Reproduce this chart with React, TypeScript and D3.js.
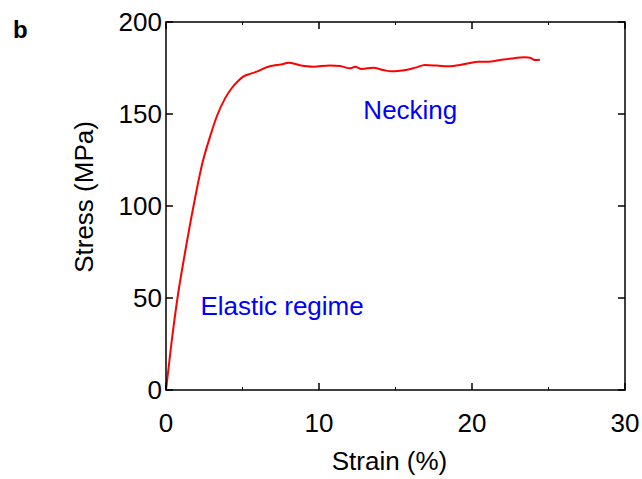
import React from "react";
import * as d3 from "d3";

// Tensile test curve: engineering strain (%) vs stress (MPa)
const strain = [
  0, 0.35, 0.75, 1.25, 1.8, 2.4, 2.88, 3.31, 3.86, 4.29, 4.7, 5.05, 5.5, 5.93, 6.58,
  7.23, 7.6, 8.0, 8.76, 9.63, 10.72, 11.37, 12.03, 12.35, 12.79, 13.55, 14.2, 14.75,
  15.29, 15.84, 16.3, 16.93, 17.69, 18.45, 19.22, 19.8, 20.41, 21.07, 21.83, 22.6,
  23.46, 23.8, 24.1, 24.44,
];
const stress = [
  0, 25, 50, 75, 100, 124, 137.7, 148.5, 158.5, 164, 167.8, 170.3, 171.8, 173, 175.4,
  176.6, 177.0, 177.9, 176.5, 175.7, 176.4, 176.1, 174.8, 175.7, 174.5, 175.2, 173.9,
  173.2, 173.5, 174.2, 175.2, 176.6, 176.3, 175.9, 176.6, 177.6, 178.4, 178.4, 179.3,
  180.2, 180.8, 180.6, 179.3, 179.5,
];

const xTicks = [0, 10, 20, 30];
const xMinorTicks = [5, 15, 25];
const yTicks = [0, 50, 100, 150, 200];

const annotations = [
  { text: "Necking", x: 12.9, y: 147.5 },
  { text: "Elastic regime", x: 2.25, y: 40.5 },
];

const W = 642;
const H = 479;
const left = 166;
const right = 625;
const top = 22;
const bottom = 390;
const font = "'Liberation Sans', Arial, Helvetica, sans-serif";
const fs = 26;

export default function App() {
  const x = d3.scaleLinear().domain([0, 30]).range([left, right]);
  const y = d3.scaleLinear().domain([0, 200]).range([bottom, top]);
  const pts = strain.map((s, i) => [s, stress[i]] as [number, number]);
  const line = d3
    .line<[number, number]>()
    .x((d) => x(d[0]))
    .y((d) => y(d[1]))
    .curve(d3.curveMonotoneX);

  const major = 7;
  const minor = 3;

  return (
    <svg
      width={W}
      height={H}
      style={{ position: "absolute", left: 0, top: 0, background: "#fff" }}
      fontFamily={font}
    >
      <rect x={0} y={0} width={W} height={H} fill="#fff" />
      <text x={13} y={38} fontSize={24} fontWeight="bold" fill="#000">
        b
      </text>

      <path d={line(pts) ?? ""} fill="none" stroke="#ff0000" strokeWidth={2} strokeLinejoin="round" />

      {/* axes box */}
      <rect x={left} y={top} width={right - left} height={bottom - top} fill="none" stroke="#000" strokeWidth={1.5} />

      {xTicks.map((t) => (
        <g key={"xt" + t}>
          <line x1={x(t)} x2={x(t)} y1={bottom} y2={bottom - major} stroke="#000" strokeWidth={1.5} />
          <line x1={x(t)} x2={x(t)} y1={top} y2={top + major} stroke="#000" strokeWidth={1.5} />
          <text x={x(t)} y={432} fontSize={fs} textAnchor="middle" fill="#000">
            {t}
          </text>
        </g>
      ))}
      {xMinorTicks.map((t) => (
        <g key={"xm" + t}>
          <line x1={x(t)} x2={x(t)} y1={bottom} y2={bottom - minor} stroke="#000" strokeWidth={1} />
          <line x1={x(t)} x2={x(t)} y1={top} y2={top + minor} stroke="#000" strokeWidth={1} />
        </g>
      ))}
      {yTicks.map((t) => (
        <g key={"yt" + t}>
          <line x1={left} x2={left + major} y1={y(t)} y2={y(t)} stroke="#000" strokeWidth={1.5} />
          <line x1={right} x2={right - major} y1={y(t)} y2={y(t)} stroke="#000" strokeWidth={1.5} />
          <text x={left - 4} y={y(t) + 9} fontSize={fs} textAnchor="end" fill="#000">
            {t}
          </text>
        </g>
      ))}

      <text x={(left + right) / 2 - 6} y={470} fontSize={fs} textAnchor="middle" fill="#000">
        Strain (%)
      </text>
      <text
        transform={`translate(93, 197) rotate(-90)`}
        fontSize={fs}
        textAnchor="middle"
        fill="#000"
      >
        Stress (MPa)
      </text>

      {annotations.map((a) => (
        <text key={a.text} x={x(a.x)} y={y(a.y)} fontSize={fs} fill="#0000ff">
          {a.text}
        </text>
      ))}
    </svg>
  );
}
